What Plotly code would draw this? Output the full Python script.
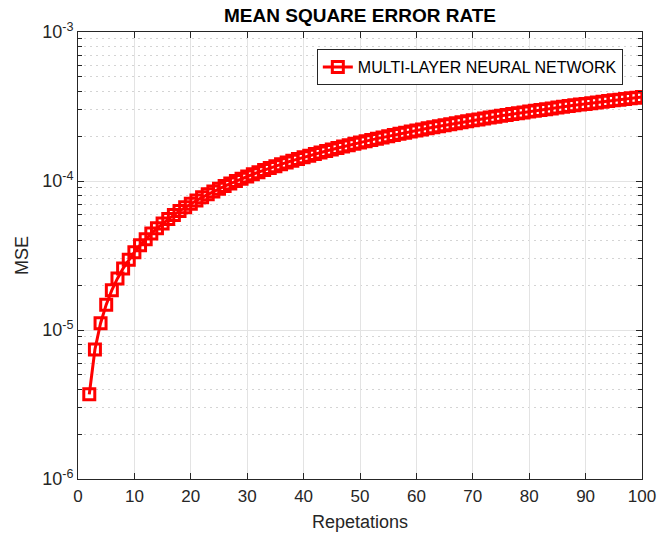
import plotly.graph_objects as go

repetitions = list(range(2, 101))
mse_e6 = [3.7, 7.4, 11.1, 14.8, 18.5, 22.2, 25.9, 29.6, 33.3, 37.0,
          40.7, 44.4, 48.1, 51.8, 55.5, 59.2, 62.9, 66.6, 70.3, 74.0,
          77.7, 81.4, 85.1, 88.8, 92.5, 96.2, 99.9, 103.6, 107.3, 111.0,
          114.7, 118.4, 122.1, 125.8, 129.5, 133.2, 136.9, 140.6, 144.3, 148.0,
          151.7, 155.4, 159.1, 162.8, 166.5, 170.2, 173.9, 177.6, 181.3, 185.0,
          188.7, 192.4, 196.1, 199.8, 203.5, 207.2, 210.9, 214.6, 218.3, 222.0,
          225.7, 229.4, 233.1, 236.8, 240.5, 244.2, 247.9, 251.6, 255.3, 259.0,
          262.7, 266.4, 270.1, 273.8, 277.5, 281.2, 284.9, 288.6, 292.3, 296.0,
          299.7, 303.4, 307.1, 310.8, 314.5, 318.2, 321.9, 325.6, 329.3, 333.0,
          336.7, 340.4, 344.1, 347.8, 351.5, 355.2, 358.9, 362.6, 366.3]
mse = [v * 1e-6 for v in mse_e6]

y_tickvals = [1e-6, 1e-5, 1e-4, 1e-3]
y_ticktext = ["10<sup>-6</sup>", "10<sup>-5</sup>", "10<sup>-4</sup>", "10<sup>-3</sup>"]
x_tickvals = list(range(0, 101, 10))

font_family = "Liberation Sans, Arial, sans-serif"

fig = go.Figure()
fig.add_trace(go.Scatter(
    x=repetitions, y=mse, mode="lines+markers",
    name="MULTI-LAYER NEURAL NETWORK",
    line=dict(color="#ff0000", width=3),
    marker=dict(symbol="square-open", size=11, color="#ff0000",
                line=dict(color="#ff0000", width=3)),
))

fig.update_layout(
    width=670, height=535,
    margin=dict(l=78, r=28, t=32, b=56),
    paper_bgcolor="white", plot_bgcolor="white",
    font=dict(family=font_family, color="#262626", size=16),
    title=dict(text="<b>MEAN SQUARE ERROR RATE</b>", x=0.5, xanchor="center",
               y=0.972, yanchor="middle", xref="paper",
               font=dict(size=19, color="black")),
    showlegend=True,
    legend=dict(x=0.966, y=0.962, xanchor="right", yanchor="top",
                bgcolor="white", bordercolor="#262626", borderwidth=1,
                font=dict(size=16, color="black")),
)

fig.update_xaxes(
    range=[0, 100], tickvals=x_tickvals, automargin=False,
    showline=True, linecolor="#262626", linewidth=1, mirror="ticks",
    ticks="inside", ticklen=6, tickcolor="#262626",
    showgrid=True, gridcolor="#e3e3e3", gridwidth=1,
    zeroline=False, ticklabelstandoff=2,
    title=dict(text="Repetations", font=dict(size=18), standoff=9),
    tickfont=dict(size=17),
)
fig.update_yaxes(
    type="log", range=[-6, -3], tickvals=y_tickvals, ticktext=y_ticktext,
    automargin=False,
    showline=True, linecolor="#262626", linewidth=1, mirror="ticks",
    ticks="inside", ticklen=6, tickcolor="#262626",
    showgrid=True, gridcolor="#e3e3e3", gridwidth=1,
    zeroline=False,
    minor=dict(dtick="D1", ticks="inside", ticklen=4, tickcolor="#262626",
               showgrid=True, gridcolor="#d4d4d4", griddash="2px,4px", gridwidth=1),
    title=dict(text="MSE", font=dict(size=18), standoff=8),
    tickfont=dict(size=18),
)

fig.write_html("out.html")
